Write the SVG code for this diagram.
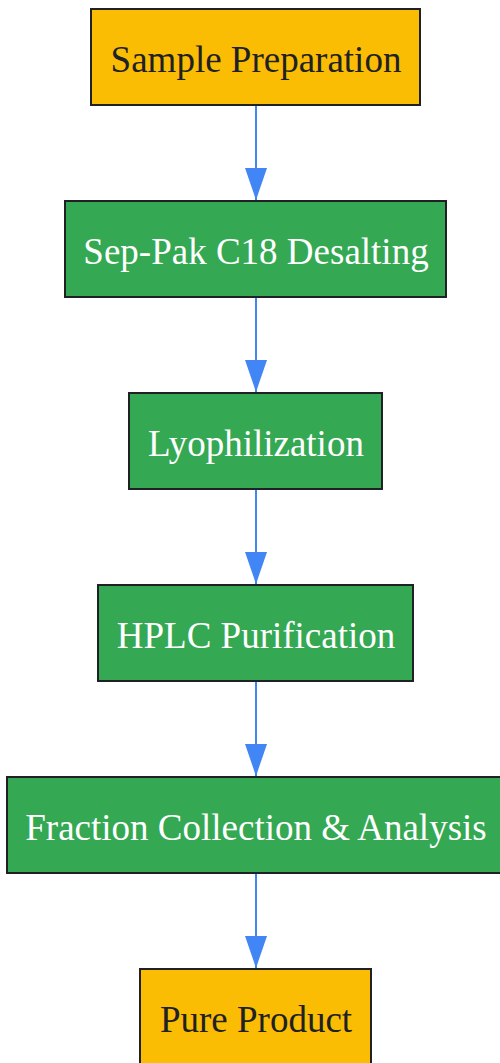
<svg xmlns="http://www.w3.org/2000/svg" width="500" height="1063" viewBox="0 0 500 1063">
<style>
.box{stroke:#202124;stroke-width:2}
.y{fill:#FBBC04}
.g{fill:#34A853}
.t{font-family:"Liberation Serif",serif;font-size:37px;text-anchor:middle;dominant-baseline:central}
.dk{fill:#202124}
.wt{fill:#ffffff}
.e{stroke:#4285F4;stroke-width:2;fill:none}
</style>
<defs>
<marker id="ah" markerUnits="userSpaceOnUse" markerWidth="32" markerHeight="22" refX="32" refY="11" orient="auto" viewBox="0 0 32 22">
<path d="M0,0 L32,11 L0,22 Z" fill="#4285F4"/>
</marker>
</defs>
<g id="connectors">
<line class="e" x1="256" y1="105" x2="256" y2="200" marker-end="url(#ah)"/>
<line class="e" x1="256" y1="297" x2="256" y2="392" marker-end="url(#ah)"/>
<line class="e" x1="256" y1="489" x2="256" y2="584" marker-end="url(#ah)"/>
<line class="e" x1="256" y1="681" x2="256" y2="776" marker-end="url(#ah)"/>
<line class="e" x1="256" y1="873" x2="256" y2="968" marker-end="url(#ah)"/>
</g>
<g id="n1"><rect class="box y" x="91" y="9" width="329" height="96"/><text class="t dk" x="256" y="59">Sample Preparation</text></g>
<g id="n2"><rect class="box g" x="65" y="201" width="381" height="96"/><text class="t wt" x="256" y="251">Sep-Pak C18 Desalting</text></g>
<g id="n3"><rect class="box g" x="129" y="393" width="253" height="96"/><text class="t wt" x="256" y="443">Lyophilization</text></g>
<g id="n4"><rect class="box g" x="98" y="585" width="315" height="96"/><text class="t wt" x="256" y="635">HPLC Purification</text></g>
<g id="n5"><rect class="box g" x="7" y="777" width="498" height="96"/><text class="t wt" x="256" y="827">Fraction Collection &amp; Analysis</text></g>
<g id="n6"><rect class="box y" x="140" y="969" width="231" height="100"/><text class="t dk" x="256" y="1019">Pure Product</text></g>
</svg>
